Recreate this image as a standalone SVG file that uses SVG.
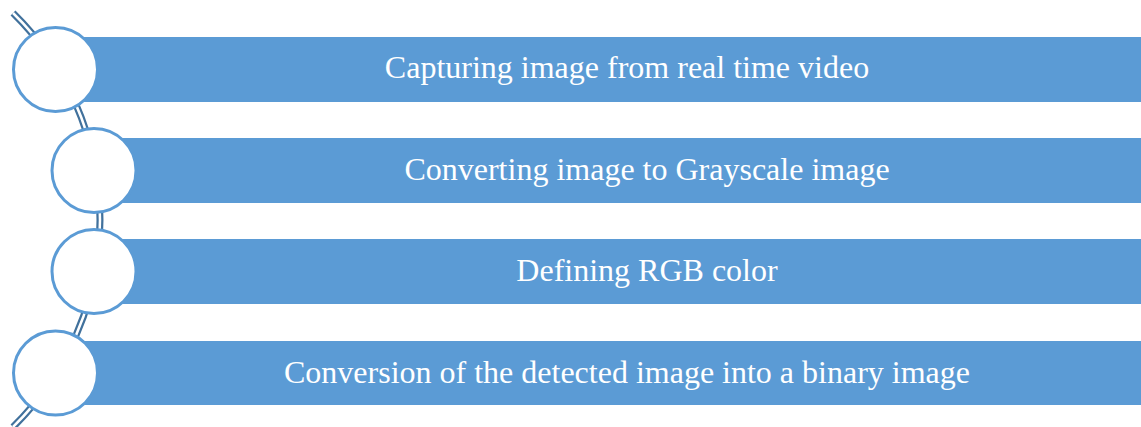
<svg xmlns="http://www.w3.org/2000/svg" width="1141" height="427" viewBox="0 0 1141 427">
<style>
.bar{fill:#5b9bd5;}
.circ{fill:#ffffff;stroke:#5b9bd5;stroke-width:3;}
.lbl{font-family:"Liberation Serif","Times New Roman",serif;font-size:32px;fill:#ffffff;text-anchor:middle;}
.arcO{fill:none;stroke:#41719c;stroke-width:7;}
.arcI{fill:none;stroke:#ffffff;stroke-width:2.5;}
</style>
<g id="connectors">
<path class="arcO" d="M13,13 A289.8,289.8 0 0 1 13,427"/>
<path class="arcI" d="M13,13 A289.8,289.8 0 0 1 13,427"/>
</g>
<g id="node1">
<rect class="bar" x="55" y="37" width="1086" height="65"/>
<circle class="circ" cx="55.5" cy="69.5" r="42"/>
<text class="lbl" x="627" y="78">Capturing image from real time video</text>
</g>
<g id="node2">
<rect class="bar" x="94" y="138" width="1047" height="65"/>
<circle class="circ" cx="94" cy="170.5" r="42"/>
<text class="lbl" x="647" y="180">Converting image to Grayscale image</text>
</g>
<g id="node3">
<rect class="bar" x="94" y="239" width="1047" height="65"/>
<circle class="circ" cx="94" cy="271.5" r="42"/>
<text class="lbl" x="647" y="281">Defining RGB color</text>
</g>
<g id="node4">
<rect class="bar" x="55" y="341" width="1086" height="64"/>
<circle class="circ" cx="55.5" cy="373" r="42"/>
<text class="lbl" x="627" y="383">Conversion of the detected image into a binary image</text>
</g>
</svg>
